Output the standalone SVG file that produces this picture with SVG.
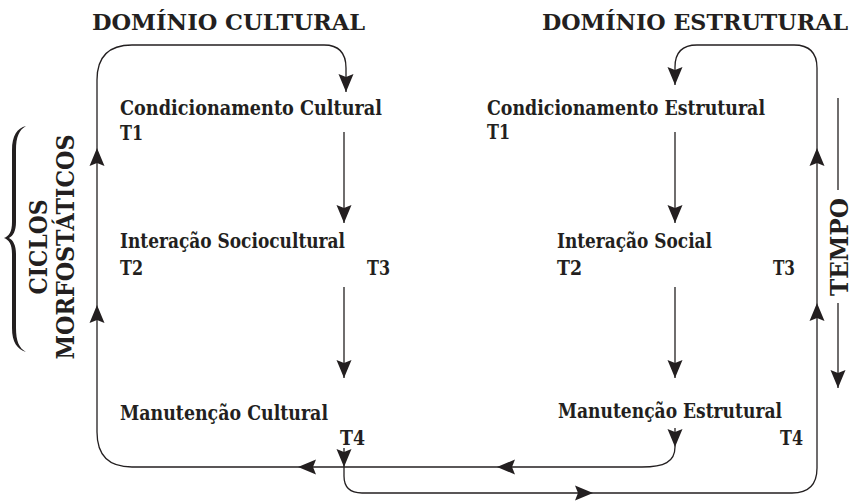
<svg xmlns="http://www.w3.org/2000/svg" width="855" height="501" viewBox="0 0 855 501">
<style>
  text { font-family: "DejaVu Serif", "Liberation Serif", serif; font-weight: bold; fill: #231f20; }
  .lbl { font-size: 20.5px; }
  .head { font-size: 25px; }
  .title { font-size: 22px; }
  .conn { fill: none; stroke: #231f20; stroke-width: 1.3; }
</style>
<defs>
  <marker id="ah" markerUnits="userSpaceOnUse" markerWidth="20" markerHeight="16" viewBox="-19 -8 20 16" refX="0" refY="0" orient="auto" overflow="visible">
    <path d="M0,0 L-18,-7.5 L-15,0 L-18,7.5 Z" fill="#231f20"/>
  </marker>
</defs>
<rect width="855" height="501" fill="#ffffff"/>

<g id="headings">
  <text class="title" x="92" y="30" textLength="273" lengthAdjust="spacingAndGlyphs">DOMÍNIO CULTURAL</text>
  <text class="title" x="542" y="30" textLength="306" lengthAdjust="spacingAndGlyphs">DOMÍNIO ESTRUTURAL</text>
</g>

<g id="node-condicionamento-cultural">
  <text class="lbl" x="120" y="115" textLength="262" lengthAdjust="spacingAndGlyphs">Condicionamento Cultural</text>
  <text class="lbl" x="120" y="140" textLength="23" lengthAdjust="spacingAndGlyphs">T1</text>
</g>
<g id="node-interacao-sociocultural">
  <text class="lbl" x="120" y="248" textLength="225" lengthAdjust="spacingAndGlyphs">Interação Sociocultural</text>
  <text class="lbl" x="120" y="275" textLength="23" lengthAdjust="spacingAndGlyphs">T2</text>
  <text class="lbl" x="367" y="275" textLength="23" lengthAdjust="spacingAndGlyphs">T3</text>
</g>
<g id="node-manutencao-cultural">
  <text class="lbl" x="120" y="420" textLength="208" lengthAdjust="spacingAndGlyphs">Manutenção Cultural</text>
  <text class="lbl" x="340" y="445" textLength="25" lengthAdjust="spacingAndGlyphs">T4</text>
</g>
<g id="node-condicionamento-estrutural">
  <text class="lbl" x="487" y="115" textLength="278" lengthAdjust="spacingAndGlyphs">Condicionamento Estrutural</text>
  <text class="lbl" x="487" y="139" textLength="23" lengthAdjust="spacingAndGlyphs">T1</text>
</g>
<g id="node-interacao-social">
  <text class="lbl" x="557" y="248" textLength="155" lengthAdjust="spacingAndGlyphs">Interação Social</text>
  <text class="lbl" x="557" y="275" textLength="25" lengthAdjust="spacingAndGlyphs">T2</text>
  <text class="lbl" x="773" y="275" textLength="22" lengthAdjust="spacingAndGlyphs">T3</text>
</g>
<g id="node-manutencao-estrutural">
  <text class="lbl" x="558" y="418" textLength="224" lengthAdjust="spacingAndGlyphs">Manutenção Estrutural</text>
  <text class="lbl" x="780" y="445" textLength="23" lengthAdjust="spacingAndGlyphs">T4</text>
</g>

<g id="ciclos-morfostaticos">
  <path d="M26 126 C17 128 12 136 12 150 L12 222 C12 232 9 236 4 238 C9 240 12 244 12 254 L12 328 C12 342 17 349 26 352 C19 348 16 341 16 328 L16 254 C16 245 13 240 9 238 C13 236 16 231 16 222 L16 150 C16 137 19 130 26 126 Z" fill="#231f20"/>
  <text class="head" transform="translate(47,247) rotate(-90)" text-anchor="middle" textLength="95" lengthAdjust="spacingAndGlyphs">CICLOS</text>
  <text class="head" transform="translate(74,247) rotate(-90)" text-anchor="middle" textLength="225" lengthAdjust="spacingAndGlyphs">MORFOSTÁTICOS</text>
</g>

<g id="tempo">
  <text class="head" transform="translate(848,247) rotate(-90)" text-anchor="middle" textLength="98" lengthAdjust="spacingAndGlyphs">TEMPO</text>
</g>

<g id="connectors">
  <path class="conn" d="M344 132 L344 223" marker-end="url(#ah)"/>
  <path class="conn" d="M344 287 L344 378" marker-end="url(#ah)"/>
  <path class="conn" d="M675 132 L675 223" marker-end="url(#ah)"/>
  <path class="conn" d="M675 287 L675 378" marker-end="url(#ah)"/>
  <path class="conn" d="M675 428 L675 447" marker-end="url(#ah)"/>
  <path class="conn" d="M675 447 C675 462 664 467 642 467 L497 467" marker-end="url(#ah)"/>
  <path class="conn" d="M497 467 L298 467" marker-end="url(#ah)"/>
  <path class="conn" d="M298 467 L132 467 Q97 467 97 432 L97 305" marker-end="url(#ah)"/>
  <path class="conn" d="M97 305 L97 148" marker-end="url(#ah)"/>
  <path class="conn" d="M97 148 L97 80 Q97 45 132 45 L324 45 Q346 45 346 68 L346 92" marker-end="url(#ah)"/>
  <path class="conn" d="M344 448 L344 467" marker-end="url(#ah)"/>
  <path class="conn" d="M344 467 L344 476 Q344 493 362 493 L593 493" marker-end="url(#ah)"/>
  <path class="conn" d="M593 493 L792 493 Q817 493 817 468 L817 303" marker-end="url(#ah)"/>
  <path class="conn" d="M817 303 L817 148" marker-end="url(#ah)"/>
  <path class="conn" d="M817 148 L817 68 Q817 45 794 45 L697 45 Q675 45 675 67 L675 85" marker-end="url(#ah)"/>
  <path class="conn" d="M838 98 L838 190"/>
  <path class="conn" d="M838 303 L838 388" marker-end="url(#ah)"/>
</g>
</svg>
